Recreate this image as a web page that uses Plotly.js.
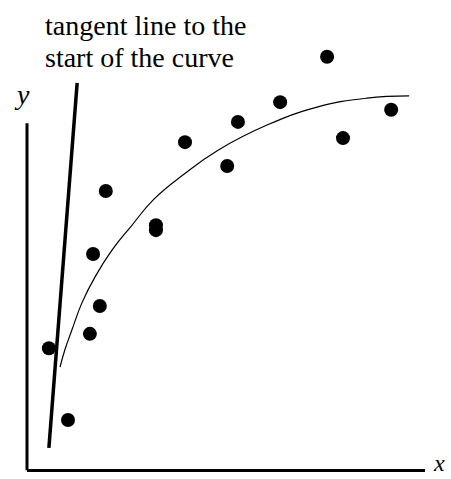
<!DOCTYPE html>
<html>
<head>
<meta charset="utf-8">
<script src="https://cdn.plot.ly/plotly-3.0.1.min.js"></script>
<style>
  html, body { margin: 0; padding: 0; background: #fff; }
  #chart { width: 451px; height: 479px; }
</style>
</head>
<body>
<div id="chart"></div>
<script>
// Observed data points (x, y)
const dotX = [0.55, 1.03, 1.58, 1.83, 1.66, 1.98, 3.24, 3.24, 3.97, 5.03, 5.30, 6.36, 7.54, 7.94, 9.15];
const dotY = [2.69, 1.09, 3.01, 3.63, 4.79, 6.19, 5.43, 5.32, 7.28, 6.75, 7.73, 8.17, 9.18, 7.37, 8.00];

// Fitted saturation curve
const curveX = [0.83, 0.95, 1.13, 1.38, 1.71, 2.14, 2.62, 3.19, 3.95, 4.80, 6.03, 7.29, 8.54, 9.60];
const curveY = [2.27, 2.65, 3.10, 3.70, 4.28, 4.88, 5.41, 6.01, 6.57, 7.10, 7.66, 8.06, 8.26, 8.31];

// Tangent line at the start of the curve
const tangentX = [0.55, 1.26];
const tangentY = [0.47, 8.60];

// Axis labels and note
const noteLines = ['tangent line to the', 'start of the curve'];
const xLabel = 'x';
const yLabel = 'y';

const serif = 'Liberation Serif';

const traces = [
  {
    x: curveX, y: curveY, type: 'scatter', mode: 'lines',
    line: { color: '#000', width: 1.2, shape: 'spline', smoothing: 1.3 },
    hoverinfo: 'skip'
  },
  {
    x: tangentX, y: tangentY, type: 'scatter', mode: 'lines',
    line: { color: '#000', width: 3.5 },
    hoverinfo: 'skip'
  },
  {
    x: dotX, y: dotY, type: 'scatter', mode: 'markers',
    marker: { color: '#000', size: 14, symbol: 'circle' },
    cliponaxis: false
  }
];

const layout = {
  width: 451, height: 479,
  margin: { l: 27, r: 26, t: 20, b: 10 },
  paper_bgcolor: '#fff', plot_bgcolor: '#fff',
  showlegend: false,
  xaxis: {
    range: [0, 10], showgrid: false, zeroline: false,
    showticklabels: false, ticks: '',
    showline: true, linecolor: '#000', linewidth: 3
  },
  yaxis: {
    range: [0, 10], showgrid: false, zeroline: false,
    showticklabels: false, ticks: '', showline: false
  },
  shapes: [
    // vertical axis stops well below the top of the drawing
    { type: 'line', xref: 'paper', yref: 'paper', x0: 0, x1: 0, y0: -0.003, y1: 0.77,
      line: { color: '#000', width: 3 } }
  ],
  annotations: [
    { xref: 'paper', yref: 'paper', x: 0.040, y: 0.988, xanchor: 'left', yanchor: 'middle',
      text: noteLines[0], showarrow: false, font: { family: serif, size: 28, color: '#000' } },
    { xref: 'paper', yref: 'paper', x: 0.040, y: 0.916, xanchor: 'left', yanchor: 'middle',
      text: noteLines[1], showarrow: false, font: { family: serif, size: 28, color: '#000' } },
    { xref: 'paper', yref: 'paper', x: -0.0126, y: 0.833, xanchor: 'center', yanchor: 'middle',
      text: '<i>' + yLabel + '</i>', showarrow: false, font: { family: serif, size: 28, color: '#000' } },
    { xref: 'paper', yref: 'paper', x: 1.035, y: 0.0134, xanchor: 'center', yanchor: 'middle',
      text: '<i>' + xLabel + '</i>', showarrow: false, font: { family: serif, size: 24, color: '#000' } }
  ]
};

Plotly.newPlot('chart', traces, layout, { staticPlot: true, displayModeBar: false });
</script>
</body>
</html>
